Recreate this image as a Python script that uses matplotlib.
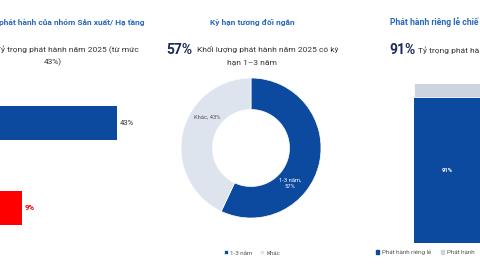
import matplotlib
matplotlib.use("Agg")
import matplotlib.pyplot as plt
from matplotlib.patches import Patch

plt.rcParams['font.family'] = ['Roboto', 'DejaVu Sans']

# data
share_labels = ['Sản xuất/ Hạ tầng', 'Khác']
share_values = [43, 9]
term_labels = ['1-3 năm', 'Khác']
term_values = [57, 43]
issue_labels = ['Phát hành riêng lẻ', 'Phát hành']
issue_values = [91, 9]

BLUE = '#0B4A9E'
RED = '#FF0000'
LIGHT = '#DDE4EE'
GREY = '#CCD5DF'
TITLE = '#2A68BD'
NAVY = '#1B2B57'

W, H = 480, 270
fig = plt.figure(figsize=(4.8, 2.7), dpi=100)

def box(x, y, w, h):
    # pixel box (top-left origin) -> figure coords
    return [x / W, 1 - (y + h) / H, w / W, h / H]

def txt(x, y, s, **kw):
    fig.text(x / W, 1 - y / H, s, va='center', **kw)

# ---- left panel: horizontal bars
ax1 = fig.add_axes(box(-3, 80.5, 140, 170))
ax1.barh(range(len(share_values)), share_values, height=0.4,
         color=[BLUE, RED])
ax1.set_xlim(0, 50)
ax1.set_ylim(1.5, -0.5)
ax1.axis('off')
for i, v in enumerate(share_values):
    ax1.text(v + 1, i, f'{v}%', va='center', ha='left', fontsize=5.5,
             color='#333333' if i == 0 else RED,
             fontweight='normal' if i == 0 else 'bold')

txt(-1, 22, 'phát hành của nhóm Sản xuất/ Hạ tầng', ha='left', fontsize=6,
    fontweight='bold', color=TITLE)
txt(-4.5, 50, 'Tỷ trọng phát hành năm 2025 (từ mức', ha='left',
    fontsize=6, color='#333333')
txt(53, 62, '43%)', ha='center', fontsize=6, color='#333333')

# ---- middle panel: donut
ax2 = fig.add_axes(box(181, 78, 140, 140))
wedges, _ = ax2.pie(term_values, colors=[BLUE, LIGHT], startangle=90,
                    counterclock=False, radius=1,
                    wedgeprops=dict(width=0.45, edgecolor='white', linewidth=0.5))
ax2.set_xlim(-1, 1)
ax2.set_ylim(-1, 1)
ax2.text(0.56, -0.5, f'{term_labels[0]},\n{term_values[0]}%', ha='center',
         va='center', fontsize=4.2, color='white', linespacing=1.3)
ax2.text(-0.62, 0.44, f'{term_labels[1]}, {term_values[1]}%', ha='center',
         va='center', fontsize=4.2, color='#555555')

txt(252, 22, 'Kỳ hạn tương đối ngắn', ha='center', fontsize=6,
    fontweight='bold', color=TITLE)
txt(166, 50, '57%', ha='left', fontsize=10, fontweight='bold', color=NAVY)
txt(197, 50, 'Khối lượng phát hành năm 2025 có kỳ', ha='left', fontsize=6,
    color='#333333')
txt(252, 62, 'hạn 1–3 năm', ha='center', fontsize=6, color='#333333')

fig.legend(wedges, term_labels, loc='center', bbox_to_anchor=(252 / W, 1 - 253 / H),
           ncol=2, frameon=False, fontsize=4.5, handlelength=0.6,
           handleheight=0.6, handletextpad=0.4, columnspacing=1.2,
           labelcolor='#555555')

# ---- right panel: stacked bar
ax3 = fig.add_axes(box(414, 82.7, 70, 160.3))
ax3.bar([0], [issue_values[0]], width=1, color=BLUE)
ax3.bar([0], [issue_values[1]], width=1, bottom=[issue_values[0]], color=GREY,
        edgecolor='white', linewidth=0.6)
ax3.set_xlim(-0.5, 0.5)
ax3.set_ylim(0, 100)
ax3.axis('off')
ax3.text(-0.03, issue_values[0] * 0.5, f'{issue_values[0]}%', ha='center',
         va='center', fontsize=4.2, color='white', fontweight='bold')

txt(390, 22, 'Phát hành riêng lẻ chiế', ha='left', fontsize=6.2,
    fontweight='bold', color=TITLE)
txt(389, 50, '91%', ha='left', fontsize=10, fontweight='bold', color=NAVY)
txt(418, 50, 'Tỷ trọng phát hà', ha='left', fontsize=6,
    color='#333333')

fig.legend([Patch(color=BLUE), Patch(color=GREY)], issue_labels,
           loc='center left', bbox_to_anchor=(370 / W, 1 - 252 / H), ncol=2,
           frameon=False, fontsize=4.5, handlelength=0.6, handleheight=0.6,
           handletextpad=0.4, columnspacing=1.5, labelcolor='#555555')

fig.savefig('out.png', dpi=100)
